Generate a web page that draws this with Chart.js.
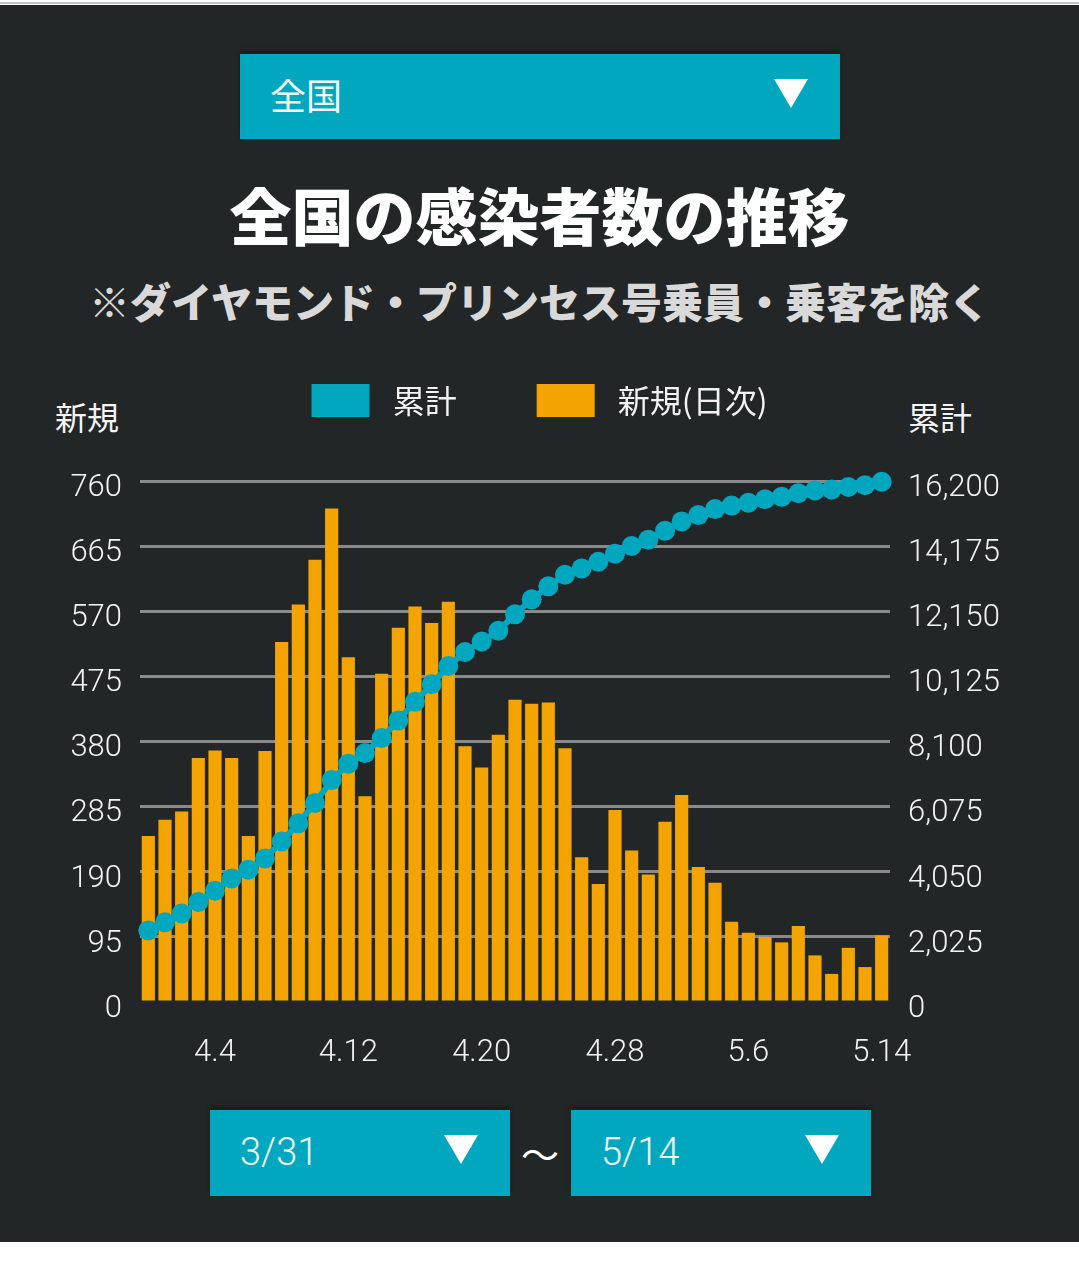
<!DOCTYPE html>
<html lang="ja">
<head>
  <meta charset="UTF-8" />
  <title>全国の感染者数の推移</title>
  <script src="https://cdn.jsdelivr.net/npm/chart.js"></script>
  <style>
    body {
      margin: 0;
      width: 1079px;
      height: 1264px;
      background: #ffffff;
      position: relative;
      overflow: hidden;
      font-family: "Noto Sans CJK JP", sans-serif;
      color: #ffffff;
    }
    .topline {
      position: absolute; left: 0; top: 2px; width: 1079px; height: 2px;
      background: #c4c4c4;
    }
    .panel {
      position: absolute; left: 0; top: 5px; width: 1079px; height: 1237px;
      background: #232626;
    }
    .select {
      position: absolute;
      background: #00a7bf;
      box-shadow: 0 -3px 4px rgba(0, 0, 0, 0.35);
    }
    .select .txt {
      position: absolute;
      line-height: 1;
      color: #f2fbfc;
    }
    .tri {
      position: absolute;
      width: 0; height: 0;
      border-left: 17px solid transparent;
      border-right: 17px solid transparent;
      border-top: 29px solid #ffffff;
    }
    .title {
      position: absolute; left: 0; width: 1079px; text-align: center;
      font-size: 62px; font-weight: 900; line-height: 1; top: 183px;
    }
    .sub {
      position: absolute; left: 0; width: 1079px; text-align: center;
      font-size: 41px; font-weight: 900; line-height: 1; top: 280px;
      color: #d9d9d9;
    }
    .axis-title {
      position: absolute; top: 400px; font-size: 32px; line-height: 1;
      color: #f4f4f4;
    }
    .tilde {
      position: absolute; left: 520px; top: 1134px; width: 40px;
      text-align: center; font-size: 38px; line-height: 1;
    }
    #wrap {
      position: absolute; left: 0; top: 304px; width: 1079px; height: 786px;
    }
  </style>
</head>
<body>
  <div class="topline"></div>
  <div class="panel"></div>

  <div class="select" style="left:240px; top:54px; width:600px; height:85px;">
    <div class="txt" style="left:30px; top:22px; font-size:36px;">全国</div>
    <div class="tri" style="left:534px; top:25px;"></div>
  </div>

  <div class="title">全国の感染者数の推移</div>
  <div class="sub">※ダイヤモンド・プリンセス号乗員・乗客を除く</div>

  <div class="axis-title" style="left:55px;">新規</div>
  <div class="axis-title" style="left:908px;">累計</div>

  <div id="wrap"><canvas id="chart"></canvas></div>

  <div class="select" style="left:210px; top:1110px; width:300px; height:86px;">
    <div class="txt" style="left:30px; top:23px; font-size:38px; font-family:Roboto; font-weight:300;">3/31</div>
    <div class="tri" style="left:234px; top:25px;"></div>
  </div>
  <div class="tilde">～</div>
  <div class="select" style="left:571px; top:1110px; width:300px; height:86px;">
    <div class="txt" style="left:30px; top:23px; font-size:38px; font-family:Roboto; font-weight:300;">5/14</div>
    <div class="tri" style="left:234px; top:25px;"></div>
  </div>

  <script>
    // 3/31 〜 5/14
    const dates = [
      '3.31',
      '4.1', '4.2', '4.3', '4.4', '4.5', '4.6', '4.7', '4.8', '4.9', '4.10',
      '4.11', '4.12', '4.13', '4.14', '4.15', '4.16', '4.17', '4.18', '4.19', '4.20',
      '4.21', '4.22', '4.23', '4.24', '4.25', '4.26', '4.27', '4.28', '4.29', '4.30',
      '5.1', '5.2', '5.3', '5.4', '5.5', '5.6', '5.7', '5.8', '5.9', '5.10',
      '5.11', '5.12', '5.13', '5.14'
    ];
    const xTickLabels = ['4.4', '4.12', '4.20', '4.28', '5.6', '5.14'];

    const newCases = [
      242, 266, 278, 356, 367, 356, 242, 366, 525, 580,
      645, 720, 503, 300, 479, 546, 577, 553, 584, 373,
      342, 390, 441, 435, 437, 370, 211, 172, 280, 221,
      186, 263, 302, 197, 174, 117, 101, 95, 87, 111,
      68, 41, 79, 51, 97
    ];
    const totalCases = [
      2227, 2478, 2751, 3111, 3460, 3843, 4115, 4465, 4989, 5556,
      6189, 6899, 7412, 7740, 8209, 8755, 9333, 9879, 10447, 10883,
      11211, 11542, 12055, 12520, 12925, 13285, 13481, 13689, 13940, 14180,
      14377, 14650, 14944, 15141, 15327, 15436, 15523, 15632, 15708, 15818,
      15905, 15938, 16014, 16069, 16178
    ];

    const leftMax = 760, leftStep = 95;
    const rightMax = 16200, rightStep = 2025;

    const TEAL = '#00a7bf';
    const ORANGE = '#f4a400';
    const GRID = '#8a8a8a';

    Chart.defaults.font.family = 'Roboto';
    Chart.defaults.font.weight = 300;
    Chart.defaults.color = '#f2f2f2';

    // legend sits higher than the plot; fix its box height
    const legendHeight = {
      id: 'legendHeight',
      afterInit(chart) {
        const fit = chart.legend.fit;
        chart.legend.fit = function () {
          fit.call(this);
          this.height = 177;
        };
      }
    };

    new Chart(document.getElementById('chart'), {
      data: {
        labels: dates,
        datasets: [
          {
            type: 'line',
            label: '累計',
            data: totalCases,
            yAxisID: 'yR',
            borderColor: TEAL,
            backgroundColor: TEAL,
            borderWidth: 6,
            pointRadius: 10,
            pointBorderWidth: 0,
            pointBackgroundColor: TEAL,
            tension: 0,
            clip: false
          },
          {
            type: 'bar',
            label: '新規(日次)',
            data: newCases,
            yAxisID: 'yL',
            backgroundColor: ORANGE,
            borderWidth: 0,
            categoryPercentage: 1,
            barPercentage: 0.79
          }
        ]
      },
      options: {
        responsive: true,
        maintainAspectRatio: false,
        animation: false,
        layout: { padding: 0 },
        plugins: {
          tooltip: { enabled: false },
          legend: {
            position: 'top',
            labels: {
              boxWidth: 58,
              boxHeight: 33,
              padding: 80,
              color: '#f2f2f2',
              font: { family: "'Noto Sans CJK JP', sans-serif", size: 32, weight: 400 },
              generateLabels(chart) {
                return Chart.defaults.plugins.legend.labels.generateLabels(chart).map(l => ({
                  ...l, text: ' ' + l.text, lineWidth: 0
                }));
              }
            }
          }
        },
        scales: {
          x: {
            grid: { display: false },
            border: { display: false },
            ticks: {
              autoSkip: false,
              maxRotation: 0,
              padding: 25,
              font: { size: 31 },
              callback(value, index) {
                const lab = dates[index];
                return xTickLabels.includes(lab) ? lab : '';
              }
            },
            afterFit(scale) { scale.height = 88; }
          },
          yL: {
            position: 'left',
            min: 0,
            max: leftMax,
            border: { display: false },
            grid: {
              drawTicks: false,
              lineWidth: 3,
              color: ctx => (ctx.tick && ctx.tick.value === 0 ? 'rgba(0,0,0,0)' : GRID)
            },
            ticks: {
              stepSize: leftStep,
              padding: 18,
              labelOffset: 7,
              font: { size: 31 }
            },
            afterFit(scale) { scale.width = 140; }
          },
          yR: {
            position: 'right',
            min: 0,
            max: rightMax,
            border: { display: false },
            grid: { drawOnChartArea: false, drawTicks: false },
            ticks: {
              stepSize: rightStep,
              padding: 18,
              labelOffset: 7,
              font: { size: 31 },
              callback: v => v.toLocaleString('en-US')
            },
            afterFit(scale) { scale.width = 189; }
          }
        }
      },
      plugins: [legendHeight]
    });
  </script>
</body>
</html>
